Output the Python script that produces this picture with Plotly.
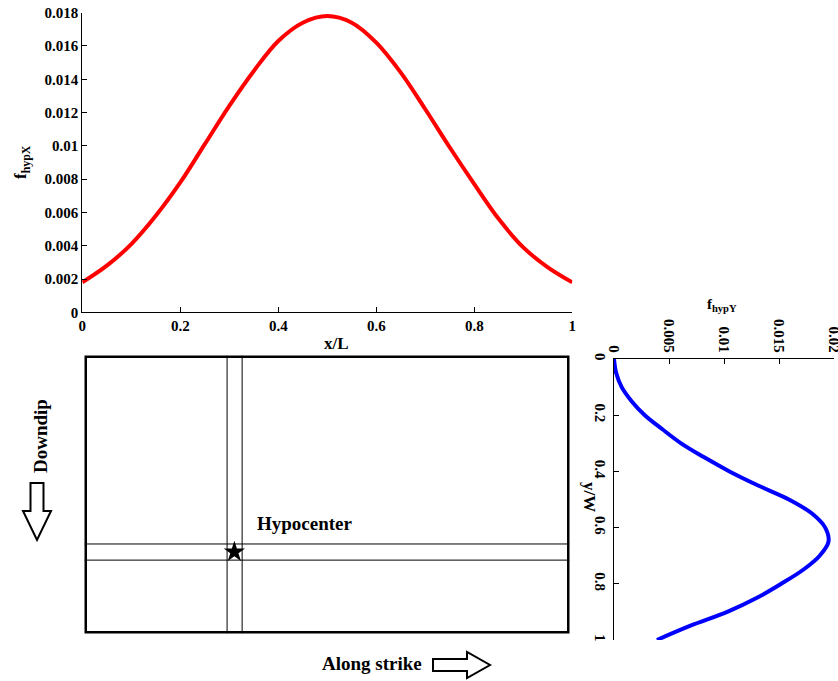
import plotly.graph_objects as go

# Along-strike hypocentre distribution
x_over_L = [0, 0.05, 0.1, 0.15, 0.2, 0.25, 0.3, 0.35, 0.4, 0.45, 0.5,
            0.55, 0.6, 0.65, 0.7, 0.75, 0.8, 0.85, 0.9, 0.95, 1.0]
f_hypX = [0.0018, 0.0028, 0.0041, 0.0058, 0.0078, 0.0101, 0.0124, 0.0145, 0.0163, 0.0174, 0.0178,
          0.0174, 0.0162, 0.0144, 0.0122, 0.0099, 0.0077, 0.0056, 0.0039, 0.0027, 0.0018]

# Down-dip hypocentre distribution
y_over_W = [0, 0.05, 0.1, 0.15, 0.2, 0.25, 0.3, 0.35, 0.4, 0.45, 0.5,
            0.55, 0.6, 0.65, 0.7, 0.75, 0.8, 0.85, 0.9, 0.95, 1.0]
f_hypY = [0.0, 0.0002, 0.0007, 0.0016, 0.0028, 0.0044, 0.0061, 0.0082, 0.0105, 0.0131, 0.0159,
          0.0180, 0.0192, 0.0195, 0.0187, 0.0172, 0.0152, 0.0130, 0.0103, 0.0069, 0.0039]

# Tick labels
x_ticks = [0, 0.2, 0.4, 0.6, 0.8, 1]
x_tick_text = ["0", "0.2", "0.4", "0.6", "0.8", "1"]
fx_ticks = [0, 0.002, 0.004, 0.006, 0.008, 0.01, 0.012, 0.014, 0.016, 0.018]
fx_tick_text = ["0", "0.002", "0.004", "0.006", "0.008", "0.01", "0.012", "0.014", "0.016", "0.018"]
fy_ticks = [0, 0.005, 0.01, 0.015, 0.02]
fy_tick_text = ["0", "0.005", "0.01", "0.015", "0.02"]
y_ticks = [0, 0.2, 0.4, 0.6, 0.8, 1]
y_tick_text = ["0", "0.2", "0.4", "0.6", "0.8", "1"]

# Hypocentre band on the fault plane (fractions of L and W)
hypo_band_x = [0.294, 0.325]
hypo_band_y = [0.678, 0.736]
hypo_x = [0.309]
hypo_y = [0.707]

W, H = 838, 681


def px(v):
    return v / W


def py(v):
    return 1 - v / H


SERIF = "Liberation Serif"
tick_font = dict(family=SERIF, size=15, color="black", weight="bold")

fig = go.Figure()

fig.add_trace(go.Scatter(x=x_over_L, y=f_hypX, mode="lines",
                         line=dict(color="#ff0000", width=4, shape="spline", smoothing=1.0),
                         xaxis="x", yaxis="y", showlegend=False))
fig.add_trace(go.Scatter(x=f_hypY, y=y_over_W, mode="lines",
                         line=dict(color="#0000ff", width=4, shape="spline", smoothing=1.0),
                         xaxis="x2", yaxis="y2", showlegend=False))
fig.add_trace(go.Scatter(x=hypo_x, y=hypo_y, mode="markers",
                         marker=dict(symbol="star", size=16, color="black"),
                         xaxis="x3", yaxis="y3", showlegend=False))

common = dict(showgrid=False, zeroline=False, showline=True, linecolor="black", linewidth=1,
              ticks="inside", ticklen=5, tickcolor="black", tickfont=tick_font,
              automargin=False, ticklabeloverflow="allow")

shapes = []
# fault plane outline
shapes.append(dict(type="rect", xref="x3", yref="y3", x0=0, x1=1, y0=0, y1=1,
                   line=dict(color="black", width=5)))
for xv in hypo_band_x:
    shapes.append(dict(type="line", xref="x3", yref="y3", x0=xv, x1=xv, y0=0, y1=1,
                       line=dict(color="black", width=1)))
for yv in hypo_band_y:
    shapes.append(dict(type="line", xref="x3", yref="y3", x0=0, x1=1, y0=yv, y1=yv,
                       line=dict(color="black", width=1)))


def path(points):
    return "M " + " L ".join(f"{px(a):.5f},{py(b):.5f}" for a, b in points) + " Z"


# hollow arrow pointing down-dip
cx = 37
shapes.append(dict(type="path", xref="paper", yref="paper", line=dict(color="black", width=2),
                   fillcolor="white",
                   path=path([(cx - 6.5, 483), (cx + 6.5, 483), (cx + 6.5, 511), (cx + 14, 511),
                              (cx, 540), (cx - 14, 511), (cx - 6.5, 511)])))
# hollow arrow pointing along strike
cy = 665
shapes.append(dict(type="path", xref="paper", yref="paper", line=dict(color="black", width=2),
                   fillcolor="white",
                   path=path([(433, cy - 6), (467, cy - 6), (467, cy - 13), (490, cy),
                              (467, cy + 13), (467, cy + 6), (433, cy + 6)])))

label_font = dict(family=SERIF, size=19, color="black", weight="bold")
title_font = dict(family=SERIF, size=17, color="black", weight="bold")

annotations = [
    dict(text="x/L", x=px(336), y=py(343), xref="paper", yref="paper", showarrow=False,
         font=title_font, xanchor="center", yanchor="middle"),
    dict(text="f<sub>hypX</sub>", x=px(22), y=py(162), xref="paper", yref="paper", showarrow=False,
         font=title_font, textangle=-90, xanchor="center", yanchor="middle"),
    dict(text="f<sub>hypY</sub>", x=px(722), y=py(305), xref="paper", yref="paper", showarrow=False,
         font=dict(family=SERIF, size=15, color="black", weight="bold"), xanchor="center", yanchor="middle"),
    dict(text="y/W", x=px(590), y=py(497), xref="paper", yref="paper", showarrow=False,
         font=title_font, textangle=90, xanchor="center", yanchor="middle"),
    dict(text="Hypocenter", x=px(255), y=py(523), xref="paper", yref="paper", showarrow=False,
         font=label_font, xanchor="left", yanchor="middle"),
    dict(text="Downdip", x=px(40), y=py(436), xref="paper", yref="paper", showarrow=False,
         font=label_font, textangle=-90, xanchor="center", yanchor="middle"),
    dict(text="Along strike", x=px(372), y=py(663), xref="paper", yref="paper", showarrow=False,
         font=label_font, xanchor="center", yanchor="middle"),
]

fig.update_layout(
    width=W, height=H, margin=dict(l=0, r=0, t=0, b=0, autoexpand=False),
    paper_bgcolor="white", plot_bgcolor="rgba(0,0,0,0)",
    xaxis=dict(domain=[px(82.3), px(572.3)], range=[0, 1], tickvals=x_ticks, ticktext=x_tick_text,
               anchor="y", **common),
    yaxis=dict(domain=[py(312.3), py(12.7)], range=[0, 0.018], tickvals=fx_ticks, ticktext=fx_tick_text,
               anchor="x", **common),
    xaxis2=dict(domain=[px(614), px(834)], range=[0, 0.02], side="top", tickvals=fy_ticks,
                ticktext=fy_tick_text, tickangle=90, anchor="y2", **common),
    yaxis2=dict(domain=[py(640), py(359)], range=[1, 0], tickvals=y_ticks, ticktext=y_tick_text,
                tickangle=90, anchor="x2", **common),
    xaxis3=dict(domain=[px(84.5), px(569.5)], range=[0, 1], visible=False, anchor="y3"),
    yaxis3=dict(domain=[py(633.5), py(355.5)], range=[1, 0], visible=False, anchor="x3"),
    shapes=shapes, annotations=annotations,
)

fig.write_html("out.html")
